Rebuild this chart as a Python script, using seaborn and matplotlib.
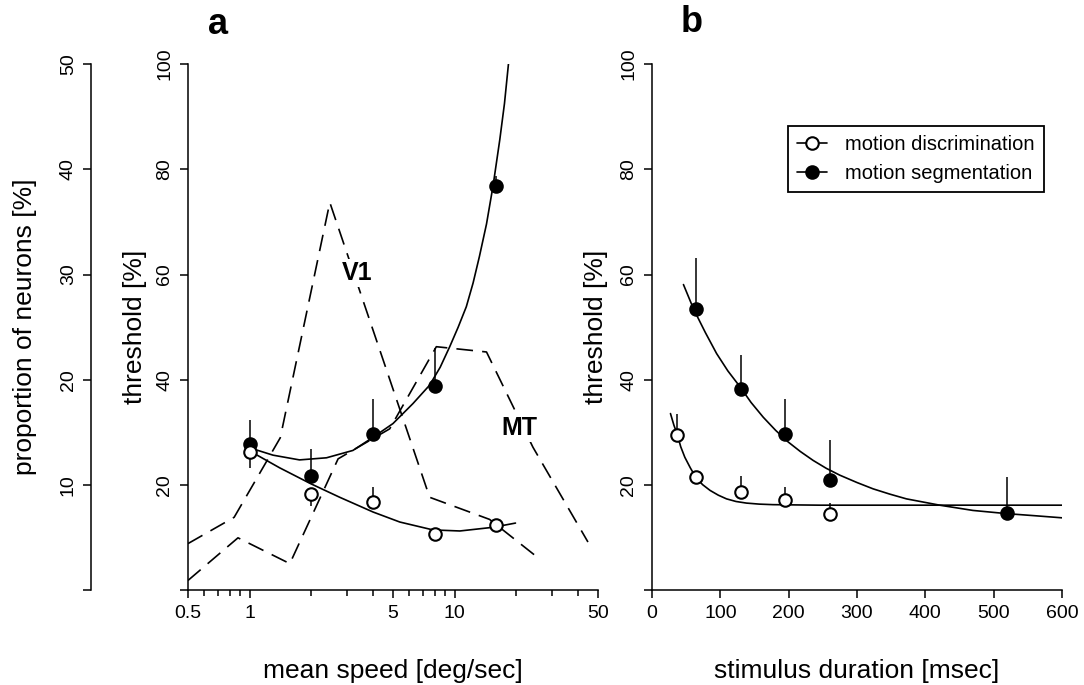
import matplotlib
matplotlib.use('Agg')
import matplotlib.pyplot as plt
from matplotlib.lines import Line2D
from matplotlib.ticker import FixedLocator, NullFormatter
import seaborn as sns
import numpy as np

# ---- panel a: threshold vs mean speed ----
speed = [1, 2, 4, 8, 16]
disc_a = [26.3, 18.3, 16.8, 10.7, 12.5]
disc_a_lo = [3.1, 2.3, 0, 0, 0]
disc_a_hi = [0, 0, 2.8, 0, 0]
seg_a = [27.9, 21.7, 29.7, 38.8, 76.8]
seg_a_hi = [4.4, 5.1, 6.6, 7.2, 2.0]

# fitted curves
seg_fit_a_x = [0.98, 1.30, 1.75, 2.37, 3.19, 4.0, 5.0, 6.26, 7.55, 8.5, 9.46, 10.4, 11.4,
               12.3, 13.2, 14.3, 15.4, 16.6, 17.5, 18.3]
seg_fit_a_y = [27.2, 25.7, 24.8, 25.2, 26.6, 29.1, 31.7, 35.5, 39.0, 42.4, 46.3, 50.0, 53.9,
               58.4, 63.4, 69.6, 76.9, 85.6, 92.5, 100]
disc_fit_a_x = [1.0, 1.40, 1.98, 2.75, 4.0, 5.4, 7.84, 10.6, 15.4, 19.8]
disc_fit_a_y = [26.5, 23.3, 20.3, 17.7, 14.9, 13.0, 11.5, 11.3, 12.0, 12.8]

# speed preference distributions (proportion of neurons)
v1_speed = [0.5, 0.84, 1.41, 2.46, 7.55, 14.8, 24.6]
v1_prop = [4.45, 6.95, 14.5, 36.85, 8.85, 6.75, 3.35]
mt_speed = [0.5, 0.877, 1.57, 2.70, 4.82, 8.14, 14.3, 24.1, 44.7]
mt_prop = [0.95, 5.0, 2.55, 12.5, 15.35, 23.15, 22.65, 13.6, 4.6]

# ---- panel b: threshold vs stimulus duration ----
dur_seg = [65, 130, 195, 260, 520]
seg_b = [53.4, 38.2, 29.8, 21.0, 14.8]
seg_b_hi = [9.7, 6.5, 6.6, 7.6, 6.7]
dur_disc = [36, 65, 130, 195, 260]
disc_b = [29.6, 21.5, 18.7, 17.1, 14.6]
disc_b_hi = [4.0, 0, 3.0, 2.5, 2.0]

seg_fit_b_x = [46, 61, 78, 94.5, 111, 128.7, 145, 162.8, 181, 199.3, 217, 235.8, 255, 274.8,
               300, 323.6, 348, 372.3, 421, 469.7, 518.6, 560, 600]
seg_fit_b_y = [58.1, 53.4, 49.0, 45.0, 41.7, 38.7, 35.7, 32.9, 30.4, 28.2, 26.4, 24.7, 23.2, 21.9,
               20.5, 19.3, 18.3, 17.4, 16.2, 15.2, 14.6, 14.2, 13.8]
disc_fit_b_x = [27, 32, 37, 42, 48, 56, 64, 74, 85, 97, 109, 123, 138, 157, 177, 210, 246, 600]
disc_fit_b_y = [33.6, 31.4, 29.6, 27.3, 25.3, 23.3, 21.5, 20.1, 19.0, 18.1, 17.4, 16.9, 16.6, 16.4,
                16.3, 16.25, 16.2, 16.2]

sns.set_theme(style='ticks')
plt.rcParams['font.family'] = ['Liberation Sans', 'DejaVu Sans']
plt.rcParams['axes.linewidth'] = 1.1
plt.rcParams['text.color'] = 'black'
plt.rcParams['axes.labelcolor'] = 'black'
plt.rcParams['xtick.color'] = 'black'
plt.rcParams['ytick.color'] = 'black'
plt.rcParams['axes.edgecolor'] = 'black'

LW = 1.2
MS = 9
dash = (0, (10, 5.5))

fig = plt.figure(figsize=(10.84, 6.85), dpi=100)
ax_a = fig.add_axes([0.1734, 0.1380, 0.3782, 0.7686])
ax_b = fig.add_axes([0.6015, 0.1380, 0.3782, 0.7686])

# proportion axis (left of panel a), behind the threshold data
ax_p = ax_a.twinx()
ax_a.set_zorder(ax_p.get_zorder() + 1)
ax_a.patch.set_visible(False)
ax_p.spines['left'].set_position(('axes', -0.2354))
ax_p.yaxis.set_ticks_position('left')
ax_p.yaxis.set_label_position('left')
for s in ['right', 'top', 'bottom']:
    ax_p.spines[s].set_visible(False)
ax_p.spines['left'].set_linewidth(1.1)

sns.lineplot(x=v1_speed, y=v1_prop, ax=ax_p, color='black', lw=1.2,
             linestyle=dash, sort=False, estimator=None)
sns.lineplot(x=mt_speed, y=mt_prop, ax=ax_p, color='black', lw=1.2,
             linestyle=dash, sort=False, estimator=None)
ax_p.set_ylim(0, 50)
ax_p.set_yticks([0, 10, 20, 30, 40, 50])
ax_p.set_yticklabels(['', '10', '20', '30', '40', '50'])
ax_p.set_ylabel('proportion of neurons [%]', fontsize=19)
ax_p.yaxis.set_label_coords(-0.368, 0.5)


def draw_points(ax, x, y, lo, hi, filled):
    ax.errorbar(x, y, yerr=[lo, hi], fmt='none', ecolor='black',
                elinewidth=1.1, capsize=0, zorder=3)
    sns.scatterplot(x=x, y=y, ax=ax, marker='o', s=MS ** 2,
                    color='black' if filled else 'white',
                    edgecolor='black', linewidth=1.5, zorder=4)


# panel a
ax_a.set_xscale('log')
sns.lineplot(x=seg_fit_a_x, y=seg_fit_a_y, ax=ax_a, color='black', lw=LW,
             sort=False, estimator=None)
sns.lineplot(x=disc_fit_a_x, y=disc_fit_a_y, ax=ax_a, color='black', lw=LW,
             sort=False, estimator=None)
draw_points(ax_a, speed, seg_a, [0] * 5, seg_a_hi, True)
draw_points(ax_a, speed, disc_a, disc_a_lo, disc_a_hi, False)
ax_a.set_xlim(0.5, 50)
ax_a.set_ylim(0, 100)
ax_a.xaxis.set_major_locator(FixedLocator([0.5, 1, 5, 10, 50]))
ax_a.set_xticklabels(['0.5', '1', '5', '10', '50'])
ax_a.xaxis.set_minor_locator(FixedLocator([0.6, 0.7, 0.8, 0.9, 2, 3, 4, 6, 7, 8, 9, 20, 30, 40]))
ax_a.xaxis.set_minor_formatter(NullFormatter())
label_box = dict(facecolor='white', edgecolor='none', pad=1.5)
ax_a.text(3.33, 60.3, 'V1', fontsize=18, fontweight='bold', ha='center', va='center',
          bbox=label_box)
ax_a.text(20.8, 30.8, 'MT', fontsize=18, fontweight='bold', ha='center', va='center',
          bbox=label_box)
ax_a.set_xlabel('mean speed [deg/sec]', fontsize=19)

# panel b
sns.lineplot(x=seg_fit_b_x, y=seg_fit_b_y, ax=ax_b, color='black', lw=LW,
             sort=False, estimator=None)
sns.lineplot(x=disc_fit_b_x, y=disc_fit_b_y, ax=ax_b, color='black', lw=LW,
             sort=False, estimator=None)
draw_points(ax_b, dur_seg, seg_b, [0] * 5, seg_b_hi, True)
draw_points(ax_b, dur_disc, disc_b, [0] * 5, disc_b_hi, False)
ax_b.set_xlim(0, 600)
ax_b.set_ylim(0, 100)
ax_b.set_xticks([0, 100, 200, 300, 400, 500, 600])
ax_b.set_xlabel('stimulus duration [msec]', fontsize=19)

handles = [
    Line2D([0], [0], color='black', lw=LW, marker='o', ms=MS, mfc='white', mec='black', mew=1.5),
    Line2D([0], [0], color='black', lw=LW, marker='o', ms=MS, mfc='black', mec='black', mew=1.5),
]
leg = ax_b.legend(handles, ['motion discrimination', 'motion segmentation'],
                  loc='upper right', bbox_to_anchor=(0.956, 0.882), fontsize=14.5,
                  frameon=True, fancybox=False, edgecolor='black', framealpha=1,
                  handlelength=1.5, handletextpad=0.9, labelspacing=0.5,
                  borderpad=0.45, borderaxespad=0)
leg.get_frame().set_linewidth(1.3)

for ax in (ax_a, ax_b):
    ax.spines['top'].set_visible(False)
    ax.spines['right'].set_visible(False)
    ax.set_yticks([0, 20, 40, 60, 80, 100])
    ax.set_yticklabels(['', '20', '40', '60', '80', '100'])
    ax.set_ylabel('threshold [%]', fontsize=19)
    ax.xaxis.set_label_coords(0.5, -0.130)
ax_a.yaxis.set_label_coords(-0.100, 0.5)
ax_b.yaxis.set_label_coords(-0.107, 0.5)

for ax in (ax_a, ax_b, ax_p):
    ax.tick_params(which='major', direction='out', length=5.5, width=1.1,
                   labelsize=14, color='black', labelcolor='black', pad=5)
    ax.tick_params(which='minor', direction='out', length=4, width=1.1, color='black')
    ax.tick_params(axis='y', labelrotation=90)
    for lab in ax.get_yticklabels():
        lab.set_va('center')
ax_p.tick_params(axis='y', left=True, right=False, labelleft=True, labelright=False)

fig.text(218 / 1084, 1 - 24 / 685, 'a', fontsize=26, fontweight='bold', ha='center', va='center')
fig.text(692 / 1084, 1 - 22 / 685, 'b', fontsize=26, fontweight='bold', ha='center', va='center')

fig.savefig('out.png', dpi=100, facecolor='white')
